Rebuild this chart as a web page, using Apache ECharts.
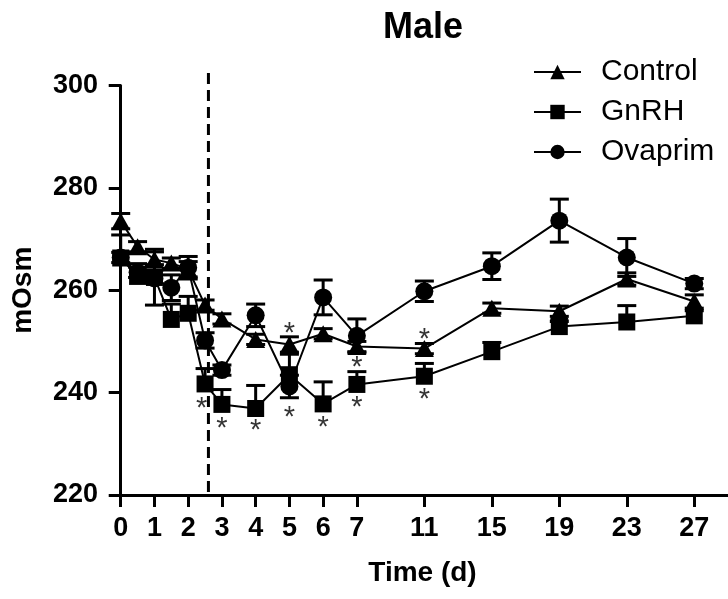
<!DOCTYPE html>
<html>
<head>
<meta charset="utf-8">
<script src="https://cdn.jsdelivr.net/npm/echarts@6/dist/echarts.min.js"></script>
<style>
  html, body { margin: 0; padding: 0; background: #fff; }
  #chart { width: 728px; height: 599px; }
</style>
</head>
<body>
<div id="chart"></div>
<script>
// sampling days (d)
const days = [0, 0.5, 1, 1.5, 2, 2.5, 3, 4, 5, 6, 7, 11, 15, 19, 23, 27];

// mean values (mOsm)
const control = [273.5, 268.5, 266.0, 265.3, 264.1, 257.1, 254.4, 250.4, 249.4, 251.5, 249.0, 248.6, 256.5, 255.9, 262.2, 257.8];
const gnrh    = [266.3, 262.7, 262.5, 254.3, 255.5, 241.7, 237.7, 236.9, 243.5, 237.8, 241.6, 243.2, 248.0, 252.9, 253.8, 255.0];
const ovaprim = [266.4, 263.5, 262.3, 260.5, 264.4, 250.2, 244.4, 255.1, 241.2, 258.6, 251.1, 259.8, 264.7, 273.6, 266.4, 261.3];

// SEM
const errControl = [1.5, 1.0, 2.0, 1.0, 1.5, 1.0, 1.0, 1.0, 1.5, 1.0, 1.0, 1.0, 1.0, 1.0, 1.2, 1.3];
const errGnrh    = [4.5, 2.5, 2.5, 3.0, 3.3, 3.0, 2.9, 4.5, 4.0, 4.3, 2.5, 2.5, 1.8, 1.0, 3.2, 1.0];
const errOvaprim = [1.0, 1.0, 5.2, 2.5, 2.2, 1.5, 1.0, 2.2, 2.2, 3.4, 3.3, 2.0, 2.6, 4.2, 3.7, 1.0];

// significance marks (day, mOsm)
const starDays = [2.4, 3, 4, 5, 5, 6, 7, 7, 11, 11];
const starVals = [238.0, 234.1, 233.6, 252.6, 236.2, 234.3, 245.9, 238.2, 251.4, 239.7];

// x ticks
const tickDays = [0, 1, 2, 3, 4, 5, 6, 7, 11, 15, 19, 23, 27];
const tickLabels = ['0', '1', '2', '3', '4', '5', '6', '7', '11', '15', '19', '23', '27'];

// treatment line
const treatDay = 2.6;
const treatRange = [220.6, 302.8];

// axis is linear to day 7, then compressed 2:1
const pos = (d) => (d <= 7 ? d : 7 + (d - 7) / 2);

const FONT = "'Liberation Sans', Arial, sans-serif";

const pts = (vals) => days.map((d, i) => [pos(d), vals[i]]);
const errPts = (vals, errs) => days.map((d, i) => [pos(d), vals[i], errs[i]]);

const errorBars = (name, vals, errs, upOnly) => ({
  type: 'custom',
  name: name + '_err',
  data: errPts(vals, errs),
  z: 1,
  silent: true,
  renderItem: (params, api) => {
    const x = api.value(0), y = api.value(1), e = api.value(2);
    const top = api.coord([x, y + e]);
    const bot = api.coord([x, upOnly ? y : y - e]);
    const hw = 9.5;
    const style = { stroke: '#000', lineWidth: 3 };
    const kids = [
      { type: 'line', shape: { x1: top[0], y1: top[1], x2: bot[0], y2: bot[1] }, style },
      { type: 'line', shape: { x1: top[0] - hw, y1: top[1], x2: top[0] + hw, y2: top[1] }, style }
    ];
    if (!upOnly) {
      kids.push({ type: 'line', shape: { x1: bot[0] - hw, y1: bot[1], x2: bot[0] + hw, y2: bot[1] }, style });
    }
    return { type: 'group', children: kids };
  }
});

const lineSeries = (name, vals, symbol, size) => ({
  type: 'line',
  name: name,
  data: pts(vals),
  symbol: symbol,
  symbolSize: size,
  showSymbol: true,
  z: 3,
  lineStyle: { color: '#000', width: 2 },
  itemStyle: { color: '#000' }
});

const chart = echarts.init(document.getElementById('chart'));

chart.setOption({
  animation: false,
  backgroundColor: '#fff',
  title: {
    text: 'Male',
    left: 378,
    top: 5,
    textStyle: { fontFamily: FONT, fontWeight: 'bold', fontSize: 36, color: '#000' }
  },
  legend: {
    orient: 'vertical',
    left: 533,
    top: 57,
    padding: 0,
    itemWidth: 47,
    itemHeight: 18,
    itemGap: 10,
    data: ['Control', 'GnRH', 'Ovaprim'],
    textStyle: { fontFamily: FONT, fontSize: 30, color: '#000', lineHeight: 30, padding: [0, 0, 0, 15] }
  },
  grid: { left: 117, right: 0, top: 85.5, bottom: 104, containLabel: false },
  xAxis: {
    type: 'value',
    min: -0.11,
    max: 18,
    name: 'Time (d)',
    nameLocation: 'middle',
    nameGap: 64,
    nameTextStyle: { fontFamily: FONT, fontWeight: 'bold', fontSize: 28, color: '#000' },
    splitLine: { show: false },
    axisLine: { onZero: false, lineStyle: { color: '#000', width: 3 } },
    axisTick: { show: true, length: 12, lineStyle: { color: '#000', width: 3 }, customValues: tickDays.map(pos) },
    axisLabel: {
      margin: 20,
      fontFamily: FONT,
      fontWeight: 'bold',
      fontSize: 27,
      color: '#000',
      customValues: tickDays.map(pos),
      formatter: (v) => {
        const i = tickDays.findIndex((d) => Math.abs(pos(d) - v) < 1e-6);
        return i >= 0 ? tickLabels[i] : '';
      }
    }
  },
  yAxis: {
    type: 'value',
    min: 220,
    max: 300,
    interval: 20,
    name: 'mOsm',
    nameLocation: 'middle',
    nameGap: 80,
    nameTextStyle: { fontFamily: FONT, fontWeight: 'bold', fontSize: 28, color: '#000' },
    splitLine: { show: false },
    axisLine: { show: true, lineStyle: { color: '#000', width: 3 } },
    axisTick: { show: true, length: 12, lineStyle: { color: '#000', width: 3 } },
    axisLabel: { margin: 19, fontFamily: FONT, fontWeight: 'bold', fontSize: 27, color: '#000' }
  },
  series: [
    {
      type: 'line',
      name: 'treatment',
      data: treatRange.map((v) => [pos(treatDay), v]),
      symbol: 'none',
      clip: false,
      silent: true,
      z: 0,
      lineStyle: { color: '#000', width: 3, type: [11, 6] }
    },
    errorBars('Control', control, errControl, false),
    errorBars('GnRH', gnrh, errGnrh, true),
    errorBars('Ovaprim', ovaprim, errOvaprim, false),
    lineSeries('Control', control, 'triangle', [19, 17]),
    lineSeries('GnRH', gnrh, 'rect', 17),
    lineSeries('Ovaprim', ovaprim, 'circle', 18),
    {
      type: 'scatter',
      name: 'stars',
      data: starDays.map((d, i) => [pos(d), starVals[i]]),
      symbolSize: 1,
      itemStyle: { color: 'rgba(0,0,0,0)' },
      z: 4,
      silent: true,
      label: {
        show: true,
        position: 'inside',
        formatter: '*',
        offset: [0, 6],
        fontFamily: FONT,
        fontSize: 29,
        color: '#000'
      }
    }
  ]
});
</script>
</body>
</html>
